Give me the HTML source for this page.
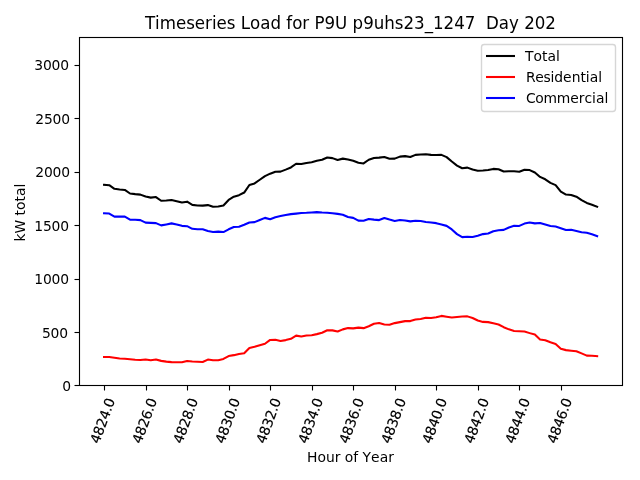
<!DOCTYPE html>
<html lang="en">
<head>
<meta charset="utf-8">
<title>Timeseries Load for P9U p9uhs23_1247  Day 202</title>
<style>
html,body{margin:0;padding:0;background:#ffffff;}
body{width:640px;height:480px;overflow:hidden;}
svg{display:block;position:absolute;left:0;top:0;}
text{font-family:"DejaVu Sans","Liberation Sans",sans-serif;fill:#000000;white-space:pre;font-kerning:none;}
.tick{font-size:13.889px;}
.label{font-size:13.889px;}
.title{font-size:16.667px;}
.xt{stroke:#000000;stroke-width:0.15px;stroke-linejoin:round;}
.spine{fill:none;stroke:#000000;stroke-width:1.111;stroke-linejoin:miter;stroke-linecap:square;}
.tk{fill:none;stroke:#000000;stroke-width:1.111;stroke-linecap:butt;}
.lgline{fill:none;stroke-width:2.083;stroke-linecap:butt;}
.curve{fill:none;stroke-width:2.083;stroke-linejoin:round;stroke-linecap:square;}
</style>
</head>
<body>
<svg width="640" height="480" viewBox="0 0 640 480" role="img" aria-label="Timeseries load line chart">
<rect x="0" y="0" width="640" height="480" fill="#ffffff"/>

<g class="x-axis">
<line class="tk" x1="104.5" y1="385.5" x2="104.5" y2="390.5"/>
<line class="tk" x1="146.5" y1="385.5" x2="146.5" y2="390.5"/>
<line class="tk" x1="187.5" y1="385.5" x2="187.5" y2="390.5"/>
<line class="tk" x1="229.5" y1="385.5" x2="229.5" y2="390.5"/>
<line class="tk" x1="270.5" y1="385.5" x2="270.5" y2="390.5"/>
<line class="tk" x1="312.5" y1="385.5" x2="312.5" y2="390.5"/>
<line class="tk" x1="353.5" y1="385.5" x2="353.5" y2="390.5"/>
<line class="tk" x1="395.5" y1="385.5" x2="395.5" y2="390.5"/>
<line class="tk" x1="436.5" y1="385.5" x2="436.5" y2="390.5"/>
<line class="tk" x1="478.5" y1="385.5" x2="478.5" y2="390.5"/>
<line class="tk" x1="519.5" y1="385.5" x2="519.5" y2="390.5"/>
<line class="tk" x1="561.5" y1="385.5" x2="561.5" y2="390.5"/>
<text class="tick xt" transform="translate(99.1 444.6) rotate(-70)" letter-spacing="-0.25">4824.0</text>
<text class="tick xt" transform="translate(141.1 444.6) rotate(-70)" letter-spacing="-0.25">4826.0</text>
<text class="tick xt" transform="translate(182.1 444.6) rotate(-70)" letter-spacing="-0.25">4828.0</text>
<text class="tick xt" transform="translate(224.1 444.6) rotate(-70)" letter-spacing="-0.25">4830.0</text>
<text class="tick xt" transform="translate(265.1 444.6) rotate(-70)" letter-spacing="-0.25">4832.0</text>
<text class="tick xt" transform="translate(307.1 444.6) rotate(-70)" letter-spacing="-0.25">4834.0</text>
<text class="tick xt" transform="translate(348.1 444.6) rotate(-70)" letter-spacing="-0.25">4836.0</text>
<text class="tick xt" transform="translate(390.1 444.6) rotate(-70)" letter-spacing="-0.25">4838.0</text>
<text class="tick xt" transform="translate(431.1 444.6) rotate(-70)" letter-spacing="-0.25">4840.0</text>
<text class="tick xt" transform="translate(473.1 444.6) rotate(-70)" letter-spacing="-0.25">4842.0</text>
<text class="tick xt" transform="translate(514.1 444.6) rotate(-70)" letter-spacing="-0.25">4844.0</text>
<text class="tick xt" transform="translate(556.1 444.6) rotate(-70)" letter-spacing="-0.25">4846.0</text>
<text class="label" x="307" y="462">Hour of Year</text>
</g>
<g class="y-axis">
<line class="tk" x1="74.5" y1="385.5" x2="79.5" y2="385.5"/>
<line class="tk" x1="74.5" y1="332.5" x2="79.5" y2="332.5"/>
<line class="tk" x1="74.5" y1="279.5" x2="79.5" y2="279.5"/>
<line class="tk" x1="74.5" y1="225.5" x2="79.5" y2="225.5"/>
<line class="tk" x1="74.5" y1="172.5" x2="79.5" y2="172.5"/>
<line class="tk" x1="74.5" y1="118.5" x2="79.5" y2="118.5"/>
<line class="tk" x1="74.5" y1="65.5" x2="79.5" y2="65.5"/>
<text class="tick" text-anchor="end" letter-spacing="-0.14" x="70.99" y="390.976">0</text>
<text class="tick" text-anchor="end" letter-spacing="-0.14" x="67.99" y="337.515">500</text>
<text class="tick" text-anchor="end" letter-spacing="-0.14" x="68.99" y="284.053">1000</text>
<text class="tick" text-anchor="end" letter-spacing="-0.14" x="68.99" y="230.591">1500</text>
<text class="tick" text-anchor="end" letter-spacing="-0.14" x="69.99" y="177.129">2000</text>
<text class="tick" text-anchor="end" letter-spacing="-0.14" x="69.99" y="123.667">2500</text>
<text class="tick" text-anchor="end" letter-spacing="-0.14" x="68.99" y="70.206">3000</text>
<text class="label" transform="translate(24.9 241.6) rotate(-90)">kW total</text>
</g>
<g class="series">
<polyline class="curve" stroke="#000000" points="104.057,184.858 109.248,185.175 114.438,188.808 119.628,189.541 124.819,189.958 130.009,193.491 135.2,194.108 140.39,194.608 145.58,196.575 150.771,197.625 155.961,197.075 161.152,200.775 166.342,200.575 171.532,200.008 176.723,201.341 181.913,202.558 187.104,201.658 192.294,204.841 197.484,205.441 202.675,205.658 207.865,205.108 213.056,206.825 218.246,206.441 223.437,205.541 228.627,199.925 233.817,196.708 239.008,195.175 244.198,192.541 249.389,184.975 254.579,183.458 259.769,179.758 264.96,176.125 270.15,173.658 275.341,171.675 280.531,171.641 285.721,169.641 290.912,167.458 296.102,163.741 301.293,164.075 306.483,162.925 311.673,162.175 316.864,160.775 322.054,159.791 327.245,157.441 332.435,158.125 337.625,159.908 342.816,158.625 348.006,159.558 353.197,160.775 358.387,162.775 363.577,163.441 368.768,159.758 373.958,157.958 379.149,157.608 384.339,156.975 389.529,158.808 394.72,158.641 399.91,156.641 405.101,156.141 410.291,157.008 415.481,154.858 420.672,154.575 425.862,154.258 431.053,154.875 436.243,154.958 441.433,154.908 446.624,157.125 451.814,161.541 457.005,165.575 462.195,168.208 467.385,167.625 472.576,169.575 477.766,170.758 482.957,170.508 488.147,170.075 493.338,168.908 498.528,169.308 503.718,171.558 508.909,171.308 514.099,171.308 519.29,171.725 524.48,169.675 529.67,170.075 534.861,172.491 540.051,176.925 545.242,179.308 550.432,182.875 555.622,185.125 560.813,191.625 566.003,194.575 571.194,194.925 576.384,196.725 581.574,200.125 586.765,202.891 591.955,204.675 597.146,206.741"/>
<polyline class="curve" stroke="#ff0000" points="104.057,357.042 109.248,357.075 114.438,357.692 119.628,358.459 124.819,358.792 130.009,359.309 135.2,359.792 140.39,359.992 145.58,359.425 150.771,360.225 155.961,359.425 161.152,360.875 166.342,361.625 171.532,362.092 176.723,362.309 181.913,362.192 187.104,360.942 192.294,361.509 197.484,361.709 202.675,361.942 207.865,359.592 213.056,360.325 218.246,360.259 223.437,358.959 228.627,356.075 233.817,355.142 239.008,353.975 244.198,353.309 249.389,348.025 254.579,346.792 259.769,345.242 264.96,343.725 270.15,339.942 275.341,339.825 280.531,341.009 285.721,340.109 290.912,338.792 296.102,335.609 301.293,336.525 306.483,335.575 311.673,335.175 316.864,334.125 322.054,332.709 327.245,330.209 332.435,330.375 337.625,331.492 342.816,329.375 348.006,328.092 353.197,328.375 358.387,327.625 363.577,328.159 368.768,326.242 373.958,323.792 379.149,322.992 384.339,324.425 389.529,324.692 394.72,323.109 399.91,322.109 405.101,321.109 410.291,321.092 415.481,319.542 420.672,319.025 425.862,317.742 431.053,317.925 436.243,317.292 441.433,315.892 446.624,316.725 451.814,317.559 457.005,316.925 462.195,316.542 467.385,316.375 472.576,318.025 477.766,320.492 482.957,321.892 488.147,322.125 493.338,323.192 498.528,324.492 503.718,327.192 508.909,329.342 514.099,330.942 519.29,331.275 524.48,331.575 529.67,333.125 534.861,334.609 540.051,339.425 545.242,340.292 550.432,342.325 555.622,344.025 560.813,348.825 566.003,350.125 571.194,350.675 576.384,351.275 581.574,353.375 586.765,355.609 591.955,355.825 597.146,356.109"/>
<polyline class="curve" stroke="#0000ff" points="104.057,213.292 109.248,213.575 114.438,216.592 119.628,216.559 124.819,216.642 130.009,219.659 135.2,219.792 140.39,220.092 145.58,222.625 150.771,222.875 155.961,223.125 161.152,225.375 166.342,224.425 171.532,223.392 176.723,224.509 181.913,225.842 187.104,226.192 192.294,228.809 197.484,229.209 202.675,229.192 207.865,230.992 213.056,231.975 218.246,231.659 223.437,232.059 228.627,229.325 233.817,227.042 239.008,226.675 244.198,224.709 249.389,222.425 254.579,222.142 259.769,219.992 264.96,217.875 270.15,219.192 275.341,217.325 280.531,216.109 285.721,215.009 290.912,214.142 296.102,213.609 301.293,213.025 306.483,212.825 311.673,212.475 316.864,212.125 322.054,212.559 327.245,212.709 332.435,213.225 337.625,213.892 342.816,214.725 348.006,216.942 353.197,217.875 358.387,220.625 363.577,220.759 368.768,218.992 373.958,219.642 379.149,220.092 384.339,218.025 389.529,219.592 394.72,221.009 399.91,220.009 405.101,220.509 410.291,221.392 415.481,220.792 420.672,221.025 425.862,221.992 431.053,222.425 436.243,223.142 441.433,224.492 446.624,225.875 451.814,229.459 457.005,234.125 462.195,237.142 467.385,236.725 472.576,237.025 477.766,235.742 482.957,234.092 488.147,233.425 493.338,231.192 498.528,230.292 503.718,229.842 508.909,227.442 514.099,225.842 519.29,225.925 524.48,223.575 529.67,222.425 534.861,223.359 540.051,222.975 545.242,224.492 550.432,226.025 555.622,226.575 560.813,228.275 566.003,229.925 571.194,229.725 576.384,230.925 581.574,232.225 586.765,232.759 591.955,234.325 597.146,236.109"/>
</g>
<rect class="spine" x="79.5" y="37.5" width="543" height="348"/>
<text class="title" xml:space="preserve" transform="translate(144.9 29) scale(1 1.08)">Timeseries Load for P9U p9uhs23_1247  Day 202</text>
<g class="legend">
<rect x="481.5" y="44.5" width="134" height="67" rx="2.78" ry="2.78" fill="#ffffff" fill-opacity="0.8" stroke="#cccccc" stroke-opacity="0.8" stroke-width="1.389"/>
<line class="lgline" stroke="#000000" x1="486" y1="56" x2="515" y2="56"/>
<text class="tick" x="525" y="60.83">Total</text>
<line class="lgline" stroke="#ff0000" x1="486" y1="77" x2="515" y2="77"/>
<text class="tick" x="525" y="81.78" dx="1 -0.4 -0.3 -0.3">Residential</text>
<line class="lgline" stroke="#0000ff" x1="486" y1="98" x2="515" y2="98"/>
<text class="tick" x="525" y="102.72" dx="1 -0.4 -0.4 -0.2">Commercial</text>
</g>
</svg>
</body>
</html>
